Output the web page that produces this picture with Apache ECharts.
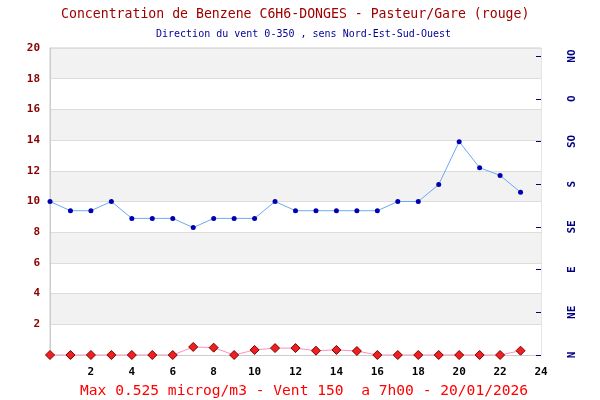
<!DOCTYPE html>
<html><head><meta charset="utf-8">
<script src="https://cdn.jsdelivr.net/npm/echarts@6/dist/echarts.min.js"></script>
<style>html,body{margin:0;padding:0;background:#fff}#c{width:600px;height:400px}</style>
</head><body><div id="c"></div>
<script>
const hours = [0,1,2,3,4,5,6,7,8,9,10,11,12,13,14,15,16,17,18,19,20,21,22,23];
const blueValues = [10.0,9.4,9.4,10.0,8.9,8.9,8.9,8.3,8.9,8.9,8.9,10.0,9.4,9.4,9.4,9.4,9.4,10.0,10.0,11.1,13.9,12.2,11.7,10.6];
const benzene = [0,0,0,0,0,0,0,0.525,0.48,0,0.33,0.45,0.45,0.28,0.33,0.26,0,0,0,0,0,0,0,0.28];
const windTicks = [0,45,90,135,180,225,270,315];
const windLabels = ['N','NE','E','SE','S','SO','O','NO'];
const titleText = 'Concentration de Benzene C6H6-DONGES - Pasteur/Gare (rouge)';
const subText = 'Direction du vent 0-350 , sens Nord-Est-Sud-Ouest';
const footText = 'Max 0.525 microg/m3 - Vent 150  a 7h00 - 20/01/2026';

const mono = '"DejaVu Sans Mono", "Liberation Mono", monospace';
const chart = echarts.init(document.getElementById('c'), null, {renderer:'canvas'});
chart.setOption({
  animation:false,
  backgroundColor:'#fff',
  title:[
    {text:titleText, left:61, top:8, padding:0, textStyle:{fontFamily:mono, fontSize:13.2, fontWeight:'normal', color:'#a00000'}},
    {text:subText, left:156, top:29, padding:0, textStyle:{fontFamily:mono, fontSize:10, fontWeight:'normal', color:'#000099'}},
    {text:footText, left:80, top:384, padding:0, textStyle:{fontFamily:mono, fontSize:14.6, fontWeight:'normal', color:'#ff0000'}}
  ],
  grid:{left:50, right:59, top:48, bottom:45, show:true, borderColor:'#cccccc', borderWidth:1, backgroundColor:'transparent'},
  xAxis:{type:'value', min:0, max:24, interval:2,
    axisLine:{show:true, lineStyle:{color:'#cccccc'}}, axisTick:{show:false}, splitLine:{show:false},
    axisLabel:{fontFamily:mono, fontSize:11, fontWeight:'bold', color:'#000', margin:12,
      formatter:v=> v===0 ? '' : String(v)}},
  yAxis:[
    {type:'value', min:0, max:20, interval:2, position:'left',
      axisLine:{show:true, lineStyle:{color:'#cccccc'}}, axisTick:{show:false},
      splitLine:{show:true, lineStyle:{color:'#dddddd'}},
      splitArea:{show:true, areaStyle:{color:['#ffffff','#f2f2f2']}},
      axisLabel:{fontFamily:mono, fontSize:11, fontWeight:'bold', color:'#8b0000', margin:10,
        formatter:v=> v===0 ? '' : String(v)}},
    {type:'value', min:0, max:323.5, position:'right',
      axisLine:{show:false}, splitLine:{show:false},
      axisTick:{show:true, inside:true, length:5, lineStyle:{color:'#000080', width:1}, customValues:windTicks},
      axisLabel:{fontFamily:mono, fontSize:11, fontWeight:'bold', color:'#000080', rotate:90, margin:26,
        customValues:windTicks,
        formatter:v=>{const i=windTicks.indexOf(v); return i>=0?windLabels[i]:'';}}}
  ],
  series:[
    {type:'line', yAxisIndex:0, data:hours.map((h,i)=>[h,blueValues[i]]),
      symbol:'circle', symbolSize:5, lineStyle:{color:'#6aaaf5', width:1},
      itemStyle:{color:'#0000b0'}, z:3},
    {type:'line', yAxisIndex:0, data:hours.map((h,i)=>[h,benzene[i]]),
      symbol:'diamond', symbolSize:9, lineStyle:{color:'#ff8fbf', width:1},
      itemStyle:{color:'#ee2020', borderColor:'#800000', borderWidth:1}, z:4}
  ]
});
</script></body></html>
